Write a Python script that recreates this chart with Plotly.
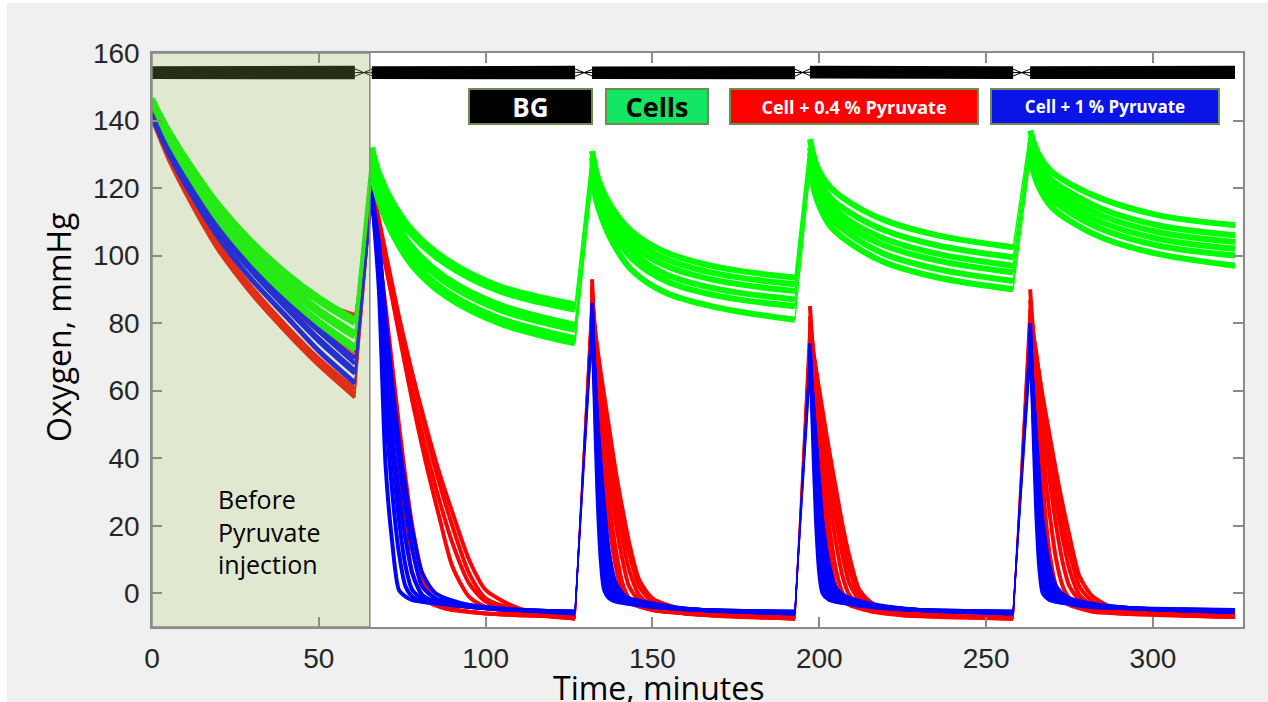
import plotly.graph_objects as go

# ---------------------------------------------------------------------------
# Oxygen traces (mmHg) for five consecutive measurement windows.
# Each window has its own time grid (minutes); each group has six wells.
# ---------------------------------------------------------------------------

# Background (no cells) wells: start / end of every window
bg_t = [[0, 60.8], [65.9, 126.8], [131.9, 192.7], [197.2, 258.1], [263.2, 324.6]]
bg_v = [
    [[155.2, 155.3], [153.2, 153.1], [155.1, 155.2], [153.3, 153.2], [155.2, 155.3]],
    [[153.2, 153.1], [155.2, 155.3], [153.2, 153.1], [155.3, 155.2], [153.2, 153.2]],
    [[154.2, 154.2], [154.2, 154.3], [154.2, 154.2], [154.3, 154.2], [154.2, 154.2]],
]

# Cells only (green)
green_t = [
    [0, 5, 12, 20, 30, 40, 50, 60.8],
    [65.9, 68, 72, 78, 88, 104, 126.8],
    [131.9, 134, 138, 144, 154, 170, 192.7],
    [197.2, 199.5, 203.5, 209.5, 219.5, 235.5, 258.1],
    [263.2, 265.5, 269.5, 275.5, 285.5, 301.5, 324.6],
]
green_w1 = [
    [146, 137, 126, 115, 104, 95, 87.5, 81],
    [146, 136.5, 125.5, 114.5, 103.5, 94, 86.5, 80],
    [146.5, 136, 124.5, 113, 101.5, 92, 84, 77],
    [146, 135.5, 124, 112.5, 101, 91, 83, 76],
    [146.5, 135, 123, 111, 99, 89, 80.5, 73],
    [146, 134.5, 122.5, 110.5, 98.5, 88.5, 80, 72],
]
green_w2 = [
    [132, 124.5, 116, 107.5, 99, 91, 85.5],
    [130, 123, 114.5, 106, 97.5, 89.5, 84],
    [129, 121, 112, 102.5, 93.5, 85.5, 79.5],
    [127, 119.5, 110.5, 101, 92, 84, 78],
    [126, 117.5, 108, 98.5, 89.5, 81.5, 75.5],
    [124, 116, 106.5, 97, 88, 80, 74],
]
green_w3 = [
    [131, 122, 114, 107, 101, 96.5, 93.5],
    [129, 120.5, 112, 105, 99, 94.5, 91.5],
    [128, 119, 110.5, 103, 97, 92.5, 89.5],
    [126, 117.5, 108.5, 101, 94.5, 90, 87],
    [124.5, 116, 107, 99, 92.5, 88, 85],
    [122, 113.5, 104, 95.5, 89, 84.5, 81],
]
green_w4 = [
    [134.5, 126, 120, 115.5, 110.5, 106, 102.5],
    [132, 123.5, 117, 112.5, 107.5, 103, 99.5],
    [130.5, 122, 115, 110, 105, 100.5, 97],
    [129, 120.5, 113, 108, 103, 98.5, 95],
    [127, 118.5, 111, 106, 100.5, 96, 92.5],
    [125, 116, 108.5, 103.5, 98, 93.5, 90],
]
green_w5 = [
    [137, 130.5, 125, 121, 116.5, 112, 109],
    [135, 128.5, 122.5, 118.5, 113.5, 109, 106],
    [133.5, 127, 121, 116.5, 111.5, 107, 104],
    [132, 125, 119, 114.5, 109.5, 105, 102],
    [130.5, 123.5, 117, 112.5, 107.5, 103, 100],
    [128.5, 121, 114.5, 110, 105, 100.5, 97],
]

# Cells + 0.4 % pyruvate (red)
red_t = [
    [0, 5, 12, 20, 30, 40, 50, 60.8],
    [65.9, 70, 74, 78, 82, 86, 90, 95, 100, 110, 126.8],
    [131.9, 133, 135, 137, 139, 141, 143, 146, 150, 160, 192.7],
    [197.2, 199, 201, 203, 205, 207, 209, 212, 216, 225, 258.1],
    [263.2, 265, 267, 269, 271, 273, 275, 278, 282, 290, 324.6],
]
red_w1 = [
    [143, 135.5, 125, 114, 102.5, 93, 86.5, 82.4],
    [142, 132, 120.5, 109, 97, 87.5, 78.5, 71.5],
    [142, 131.5, 120, 108.5, 96.5, 86.5, 77.5, 70],
    [141, 129.5, 116.5, 103.5, 90.5, 79.5, 69.5, 60.5],
    [141, 129, 116, 102.5, 89.5, 78.5, 68.5, 59],
    [140.5, 128.5, 115, 101.5, 88.5, 77.5, 67.5, 58],
]
red_w2 = [
    [119, 80, 40, 6, -2, -4, -5, -5.5, -6, -6.5, -7],
    [118, 85, 50, 20, 2, -3, -4.5, -5.5, -6, -6.5, -7],
    [120, 98, 77, 57, 39, 23, 8, -1, -4, -6, -7.5],
    [117, 97, 78, 60, 43, 28, 15, 3, -2.5, -5.5, -7.5],
    [121, 101, 82, 65, 48, 33, 20, 6, -1.5, -5, -7],
    [118, 99, 81, 65, 50, 36, 24, 10, 1, -4.5, -7.5],
]
red_w3 = [
    [93, 62, 38, 21, 8, 0, -2.5, -4, -5, -6, -7],
    [90, 66, 44, 27, 13, 3, -1.5, -3.5, -5, -6, -7.5],
    [91, 72, 52, 35, 21, 10, 2, -2, -4.5, -6, -7.5],
    [88, 74, 56, 40, 27, 16, 7, -0.5, -3.5, -6, -7.5],
    [89, 76, 60, 45, 32, 21, 12, 2, -2.5, -5.5, -7],
    [86, 76, 62, 49, 36, 25, 15, 4, -1.5, -5, -7.5],
]
red_w4 = [
    [85, 58, 30, 12, 2, -2, -3.5, -4.5, -5.5, -6.5, -7],
    [82, 62, 38, 20, 7, 0, -2.5, -4, -5, -6.5, -7.5],
    [80, 65, 45, 28, 15, 5, -0.5, -3, -4.5, -6, -7.5],
    [78, 66, 50, 35, 22, 11, 3, -2, -4, -6, -7.5],
    [76, 66, 52, 39, 27, 16, 7, -0.5, -3.5, -6, -7],
    [74, 66, 54, 42, 31, 20, 11, 1, -3, -5.5, -7.5],
]
red_w5 = [
    [90, 62, 32, 12, 2, -2, -3.5, -4.5, -5.5, -6, -6.5],
    [87, 68, 42, 24, 10, 2, -1.5, -3.5, -5, -6, -7],
    [84, 70, 50, 34, 20, 9, 2, -2, -4, -5.5, -7],
    [82, 71, 54, 40, 27, 16, 7, -0.5, -3.5, -5.5, -7],
    [80, 71, 57, 44, 32, 21, 12, 2, -2.5, -5, -6.5],
    [78, 70, 58, 47, 36, 26, 17, 5, -1, -5, -7],
]

# Cells + 1 % pyruvate (blue)
blue_t = [
    [0, 5, 12, 20, 30, 40, 50, 60.8],
    [65.9, 68, 70, 72, 74, 76, 78, 81, 85, 95, 110, 126.8],
    [131.9, 132.6, 133.5, 134.5, 135.5, 137, 139, 142, 150, 165, 192.7],
    [197.2, 198, 199, 200, 201, 203, 205, 208, 215, 230, 258.1],
    [263.2, 264, 265, 266, 267, 269, 271, 274, 281, 295, 324.6],
]
blue_w1 = [
    [142, 132.5, 121, 109.5, 98, 88, 78.5, 69.5],
    [142, 132, 120.5, 108.5, 97, 87, 77.5, 68],
    [141.5, 131.5, 119.5, 107.5, 96, 85.5, 75.5, 66],
    [141.5, 131, 119, 107, 95, 84.5, 74.5, 65],
    [141, 130.5, 118, 105.5, 93, 82.5, 72, 62.5],
    [141, 130, 117.5, 105, 92.5, 82, 71.5, 62],
]
blue_w2 = [
    [118, 90, 38, 15, 1, -1, -2, -2.5, -3, -4, -5, -5.5],
    [117, 95, 55, 30, 12, 2, -1, -2.5, -3, -4, -5, -5.5],
    [119, 100, 68, 42, 22, 8, 1, -1.5, -2.5, -4, -5, -5.5],
    [116, 100, 72, 48, 30, 16, 6, -0.5, -2.5, -4, -5, -5.5],
    [118, 104, 80, 58, 40, 25, 13, 2, -1.5, -3.5, -5, -6],
    [117, 103, 82, 62, 45, 31, 19, 6, 0, -3.5, -5, -6],
]
blue_w3 = [
    [86, 60, 30, 10, 1, -1.5, -2.5, -3, -4, -5, -5.5],
    [84, 63, 38, 18, 5, -0.5, -2, -3, -4, -5, -5.5],
    [82, 66, 45, 26, 11, 1, -1.5, -2.5, -4, -5, -6],
    [80, 66, 48, 31, 17, 4, -0.5, -2, -3.5, -5, -6],
    [78, 66, 50, 35, 22, 8, 1, -1.5, -3.5, -5, -5.5],
    [76, 65, 51, 38, 26, 12, 3, -1, -3, -5, -6],
]
blue_w4 = [
    [74, 50, 22, 6, 0, -2, -2.5, -3, -4, -5, -5.5],
    [72, 54, 30, 12, 3, -1, -2, -3, -4, -5, -5.5],
    [70, 57, 37, 19, 7, 0, -1.5, -2.5, -3.5, -5, -6],
    [68, 58, 41, 25, 12, 2, -1, -2, -3.5, -5, -6],
    [66, 58, 44, 30, 17, 5, 0, -1.5, -3.5, -5, -5.5],
    [64, 57, 45, 33, 21, 8, 1.5, -1, -3, -5, -6],
]
blue_w5 = [
    [80, 55, 25, 7, 0, -2, -2.5, -3, -4, -4.5, -5],
    [78, 58, 32, 13, 3, -1, -2, -3, -4, -4.5, -5.5],
    [75, 60, 38, 20, 7, 0, -1.5, -2.5, -3.5, -4.5, -5.5],
    [73, 61, 43, 26, 12, 2, -1, -2, -3.5, -4.5, -5],
    [70, 60, 45, 30, 17, 5, 0, -1.5, -3, -4.5, -5.5],
    [68, 60, 46, 33, 21, 8, 2, -1, -3, -4.5, -5.5],
]

# Axis ticks
x_ticks = [0, 50, 100, 150, 200, 250, 300]
y_ticks = [0, 20, 40, 60, 80, 100, 120, 140, 160]

legend_labels = ["BG", "Cells", "Cell + 0.4 % Pyruvate", "Cell + 1 % Pyruvate"]
shade_label = "Before<br>Pyruvate<br>injection"
injection_time = 65.3

GREEN, RED, BLUE = "#00ff00", "#ff0000", "#0000ff"


def windows(times, wells):
    """Join every well's windows into one x/y list, gaps between windows."""
    xs, ys = [], []
    for k in range(len(wells[0])):
        for s in range(len(times)):
            xs += list(times[s]) + [None]
            ys += list(wells[s][k]) + [None]
    return xs, ys


def transfers(times, wells):
    """Straight segments linking the end of one window to the start of the next."""
    xs, ys = [], []
    for k in range(len(wells[0])):
        for s in range(len(times) - 1):
            xs += [times[s][-1], times[s + 1][0], None]
            ys += [wells[s][k][-1], wells[s + 1][k][0], None]
    return xs, ys


fig = go.Figure()

groups = [
    (red_t, [red_w1, red_w2, red_w3, red_w4, red_w5], RED, 4, 0.7),
    (blue_t, [blue_w1, blue_w2, blue_w3, blue_w4, blue_w5], BLUE, 4, 0.7),
    (green_t, [green_w1, green_w2, green_w3, green_w4, green_w5], GREEN, 6, 1.0),
]
for times, wells, color, width, smooth in groups:
    jx, jy = transfers(times, wells)
    fig.add_trace(go.Scatter(x=jx, y=jy, mode="lines",
                             line=dict(color=color, width=1.3),
                             hoverinfo="skip", showlegend=False))
    wx, wy = windows(times, wells)
    fig.add_trace(go.Scatter(x=wx, y=wy, mode="lines",
                             line=dict(color=color, width=width, shape="spline",
                                       smoothing=smooth),
                             showlegend=False))

# Background wells
bx, by = [], []
jx, jy = [], []
for well in bg_v:
    for s in range(len(bg_t)):
        bx += bg_t[s] + [None]
        by += well[s] + [None]
        if s < len(bg_t) - 1:
            jx += [bg_t[s][-1], bg_t[s + 1][0], None]
            jy += [well[s][-1], well[s + 1][0], None]
fig.add_trace(go.Scatter(x=jx, y=jy, mode="lines", line=dict(color="#000000", width=1),
                         hoverinfo="skip", showlegend=False))
fig.add_trace(go.Scatter(x=bx, y=by, mode="lines", line=dict(color="#000000", width=6),
                         showlegend=False))

# Pre-injection period
fig.add_shape(type="rect", xref="x", yref="y", x0=0, x1=injection_time, y0=-10, y1=160,
              fillcolor="rgba(140,172,80,0.27)", line=dict(color="#8a8a8a", width=1.5),
              layer="above")

fig.add_annotation(x=19.2, y=18.4, xref="x", yref="y", text=shade_label,
                   showarrow=False, xanchor="left", yanchor="middle", align="left",
                   font=dict(family="Open Sans", size=25, color="#000000"))

# Legend boxes
boxes = [
    (113.4, 121, legend_labels[0], "#000000", "#ffffff", 26),
    (151.4, 100, legend_labels[1], "#12e662", "#000000", 27),
    (210.4, 246, legend_labels[2], "#ff0000", "#ffffff", 18),
    (285.6, 226, legend_labels[3], "#0a14e6", "#ffffff", 17),
]
for xc, w, label, bg, fg, fs in boxes:
    fig.add_annotation(x=xc, y=144.3, xref="x", yref="y", text="<b>%s</b>" % label,
                       showarrow=False, xanchor="center", yanchor="middle",
                       width=w, height=33, bgcolor=bg, bordercolor="#6e8c52",
                       borderwidth=2, borderpad=0,
                       font=dict(family="Open Sans", size=fs, color=fg))

# Axis titles
fig.add_annotation(x=-0.0862, y=0.5226, xref="paper", yref="paper",
                   text="Oxygen, mmHg", textangle=-90, showarrow=False,
                   xanchor="center", yanchor="middle",
                   font=dict(family="Open Sans", size=32, color="#000000"))
fig.add_annotation(x=0.4647, y=-0.106, xref="paper", yref="paper",
                   text="Time, minutes", showarrow=False,
                   xanchor="center", yanchor="middle",
                   font=dict(family="Open Sans", size=32, color="#000000"))

# Thin white frame around the figure
for x0, x1, y0, y1 in [(-0.1393, -0.1329, -0.2, 1.2), (-0.2, 1.1, 1.0871, 1.2)]:
    fig.add_shape(type="rect", xref="paper", yref="paper", x0=x0, x1=x1, y0=y0, y1=y1,
                  fillcolor="#ffffff", line=dict(width=0), layer="below")

axis_common = dict(showline=True, linecolor="#8a8a8a", linewidth=1.5, mirror="ticks",
                   ticks="inside", ticklen=10, tickwidth=1.5, tickcolor="#8a8a8a",
                   showgrid=False, zeroline=False,
                   tickfont=dict(family="Liberation Sans", size=28, color="#262626"))

fig.update_xaxes(range=[0, 327], tickvals=x_ticks, ticklabelstandoff=6, **axis_common)
fig.update_yaxes(range=[-10, 160], tickvals=y_ticks, ticklabelstandoff=5, **axis_common)

fig.update_layout(
    width=1268, height=702,
    margin=dict(l=152, r=25, t=53, b=75),
    paper_bgcolor="#f0f0f0", plot_bgcolor="#ffffff",
    showlegend=False,
)

fig.write_html("out.html")
